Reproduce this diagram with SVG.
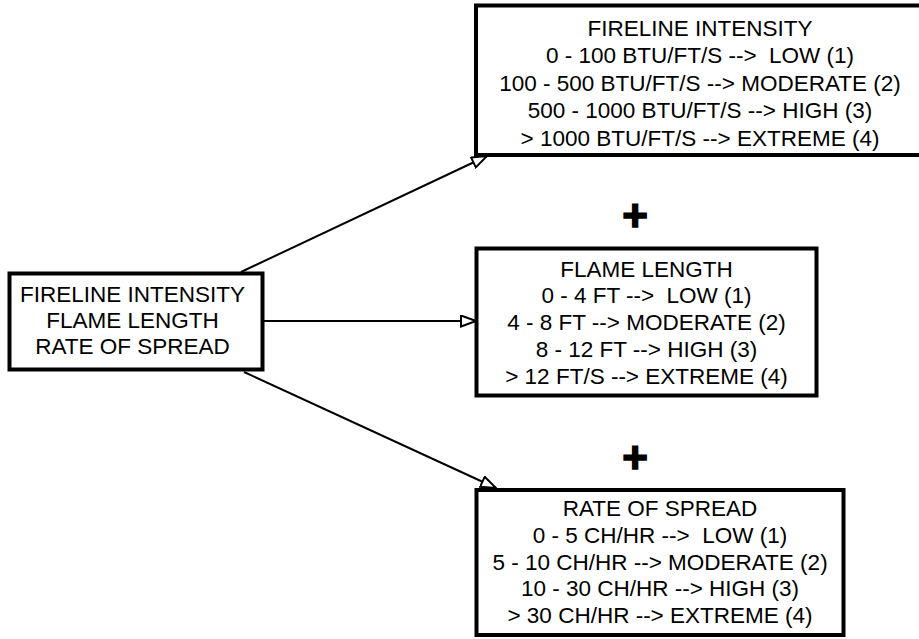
<svg xmlns="http://www.w3.org/2000/svg" width="919" height="639" viewBox="0 0 919 639">
<style>
.box{fill:#fff;stroke:#000;stroke-width:4}
.t{font-family:"Liberation Sans",Arial,sans-serif;font-size:22.5px;fill:#000;text-anchor:middle;white-space:pre}
.plus{font-family:"Liberation Sans",Arial,sans-serif;font-size:44px;font-weight:bold;fill:#000;stroke:#000;stroke-width:1.5;text-anchor:middle}
.conn{stroke:#000;stroke-width:2;fill:none;marker-end:url(#arr)}
</style>
<defs>
<marker id="arr" viewBox="0 0 17 13" refX="16" refY="6.5" markerWidth="17" markerHeight="13" markerUnits="userSpaceOnUse" orient="auto">
<path d="M1,1 L16,6.5 L1,12 Z" fill="#fff" stroke="#000" stroke-width="2"/>
</marker>
</defs>
<rect width="919" height="639" fill="#fff"/>
<g id="connectors">
<line class="conn" x1="241" y1="272" x2="487" y2="156"/>
<line class="conn" x1="263" y1="321" x2="476" y2="321"/>
<line class="conn" x1="244" y1="372" x2="496" y2="488"/>
</g>
<g id="source">
<rect class="box" x="9.5" y="273.5" width="253" height="96"/>
<text class="t" x="132.5" y="302">FIRELINE INTENSITY</text>
<text class="t" x="132.5" y="328">FLAME LENGTH</text>
<text class="t" x="132.5" y="354">RATE OF SPREAD</text>
</g>
<g id="fireline">
<rect class="box" x="476" y="5.5" width="450" height="149.5"/>
<text class="t" x="700" y="35.5">FIRELINE INTENSITY</text>
<text class="t" x="700" y="63">0 - 100 BTU/FT/S -->  LOW (1)</text>
<text class="t" x="700" y="90.5">100 - 500 BTU/FT/S --> MODERATE (2)</text>
<text class="t" x="700" y="118">500 - 1000 BTU/FT/S --> HIGH (3)</text>
<text class="t" x="700" y="145.5">&gt; 1000 BTU/FT/S --> EXTREME (4)</text>
</g>
<g id="plus1"><text class="plus" x="635" y="230.5">+</text></g>
<g id="flame">
<rect class="box" x="476.5" y="248.5" width="340" height="147"/>
<text class="t" x="646.5" y="276.5">FLAME LENGTH</text>
<text class="t" x="646.5" y="303.3">0 - 4 FT -->  LOW (1)</text>
<text class="t" x="646.5" y="330.1">4 - 8 FT --> MODERATE (2)</text>
<text class="t" x="646.5" y="356.9">8 - 12 FT --> HIGH (3)</text>
<text class="t" x="646.5" y="383.7">&gt; 12 FT/S --> EXTREME (4)</text>
</g>
<g id="plus2"><text class="plus" x="635" y="472.5">+</text></g>
<g id="spread">
<rect class="box" x="476.5" y="490" width="367" height="145"/>
<text class="t" x="660" y="516">RATE OF SPREAD</text>
<text class="t" x="660" y="542.8">0 - 5 CH/HR -->  LOW (1)</text>
<text class="t" x="660" y="569.6">5 - 10 CH/HR --> MODERATE (2)</text>
<text class="t" x="660" y="596.4">10 - 30 CH/HR --> HIGH (3)</text>
<text class="t" x="660" y="623.2">&gt; 30 CH/HR --> EXTREME (4)</text>
</g>
</svg>
